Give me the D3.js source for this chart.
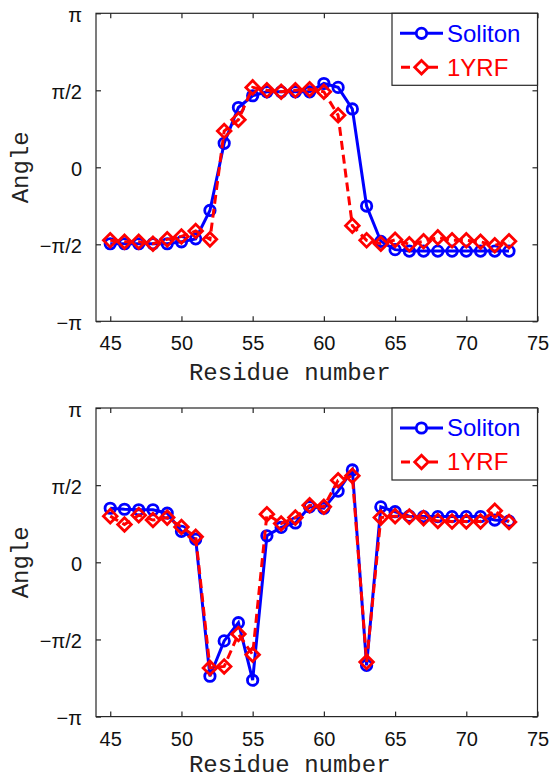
<!DOCTYPE html>
<html><head><meta charset="utf-8">
<script src="https://cdn.jsdelivr.net/npm/d3@7"></script>
<style>
html,body{margin:0;padding:0;background:#fff;}
svg{display:block;}
</style>
</head><body>
<svg id="chart" width="553" height="779"></svg>
<script>
const residues = [45,46,47,48,49,50,51,52,53,54,55,56,57,58,59,60,61,62,63,64,65,66,67,68,69,70,71,72,73];
// angles in radians
const topSoliton = [-1.56,-1.56,-1.56,-1.56,-1.56,-1.52,-1.46,-0.88,0.49,1.22,1.46,1.54,1.54,1.54,1.54,1.71,1.63,1.19,-0.79,-1.51,-1.68,-1.71,-1.71,-1.71,-1.71,-1.71,-1.71,-1.71,-1.71];
const top1YRF = [-1.49,-1.52,-1.52,-1.56,-1.47,-1.41,-1.30,-1.47,0.74,0.97,1.63,1.57,1.54,1.57,1.59,1.54,1.06,-1.19,-1.49,-1.56,-1.48,-1.57,-1.51,-1.43,-1.49,-1.49,-1.52,-1.59,-1.51];
const bottomSoliton = [1.10,1.08,1.07,1.07,1.00,0.63,0.47,-2.32,-1.60,-1.23,-2.40,0.54,0.71,0.80,1.13,1.10,1.45,1.88,-2.10,1.13,1.03,0.94,0.93,0.93,0.93,0.93,0.93,0.86,0.84];
const bottom1YRF = [0.94,0.77,0.96,0.86,0.91,0.72,0.52,-2.15,-2.12,-1.46,-1.88,0.98,0.79,0.91,1.16,1.13,1.67,1.76,-2.03,0.91,0.94,0.93,0.90,0.84,0.83,0.83,0.83,1.05,0.82];
const xTicks = [45,50,55,60,65,70,75];
const yTickValues = [-Math.PI,-Math.PI/2,0,Math.PI/2,Math.PI];
const yTickLabels = ["\u2212\u03c0","\u2212\u03c0/2","0","\u03c0/2","\u03c0"];
const seriesNames = ["Soliton","1YRF"];
const xLabel = "Residue number";
const yLabel = "Angle";

const svg = d3.select("#chart");
const left = 96, right = 537.5;
const x = d3.scaleLinear().domain([44,75]).range([left,right]);
const cr = 5.2, dm = 6.8, mw = 2.8;

function panel(top, bottom, sol, yrf, xLabelY) {
  const y = d3.scaleLinear().domain([-Math.PI, Math.PI]).range([bottom, top]);
  const g = svg.append("g");
  const axisColor = "#262626";
  g.append("rect").attr("x",left).attr("y",top).attr("width",right-left).attr("height",bottom-top)
    .attr("fill","none").attr("stroke",axisColor).attr("stroke-width",1.2);
  const fmtY = d => yTickLabels[yTickValues.indexOf(d)];
  const xb = g.append("g").attr("transform",`translate(0,${bottom})`)
    .call(d3.axisBottom(x).tickValues(xTicks).tickSizeInner(-5).tickSizeOuter(0).tickPadding(15));
  const xt = g.append("g").attr("transform",`translate(0,${top})`)
    .call(d3.axisTop(x).tickValues(xTicks).tickSizeInner(-5).tickSizeOuter(0).tickFormat(""));
  const yl = g.append("g").attr("transform",`translate(${left},0)`)
    .call(d3.axisLeft(y).tickValues(yTickValues).tickFormat(fmtY).tickSizeInner(-5).tickSizeOuter(0).tickPadding(14));
  const yr = g.append("g").attr("transform",`translate(${right},0)`)
    .call(d3.axisRight(y).tickValues(yTickValues).tickFormat("").tickSizeInner(-5).tickSizeOuter(0));
  [xb,xt,yl,yr].forEach(a => {
    a.select(".domain").remove();
    a.selectAll("line").attr("stroke",axisColor).attr("stroke-width",1.2);
    a.selectAll("text").attr("font-family","'Liberation Sans', Arial, sans-serif").attr("font-size",20).attr("fill","#111");
  });
  yl.selectAll("text").attr("dy","0.4em");

  g.append("text").attr("x",(left+right)/2 - 27).attr("y",xLabelY)
    .attr("text-anchor","middle").attr("dominant-baseline","middle")
    .attr("font-family","'Liberation Mono', 'Courier New', monospace").attr("font-size",24).attr("fill","#222")
    .text(xLabel);
  g.append("text").attr("transform",`translate(22,${(top+bottom)/2}) rotate(-90)`)
    .attr("text-anchor","middle").attr("dominant-baseline","middle")
    .attr("font-family","'Liberation Mono', 'Courier New', monospace").attr("font-size",24).attr("fill","#222")
    .text(yLabel);

  const line = d3.line().x((d,i)=>x(residues[i])).y(d=>y(d));
  g.append("path").datum(sol).attr("d",line).attr("fill","none").attr("stroke","#0000ff").attr("stroke-width",3);
  g.selectAll(".circ").data(sol).enter().append("circle")
    .attr("cx",(d,i)=>x(residues[i])).attr("cy",d=>y(d)).attr("r",cr)
    .attr("fill","none").attr("stroke","#0000ff").attr("stroke-width",mw);
  g.append("path").datum(yrf).attr("d",line).attr("fill","none").attr("stroke","#ff0000").attr("stroke-width",3)
    .attr("stroke-dasharray","9,5");
  g.selectAll(".dia").data(yrf).enter().append("path")
    .attr("d",(d,i)=>{const cx=x(residues[i]), cy=y(d); return `M${cx},${cy-dm}L${cx+dm},${cy}L${cx},${cy+dm}L${cx-dm},${cy}Z`;})
    .attr("fill","none").attr("stroke","#ff0000").attr("stroke-width",mw);

  const lx0 = 392, ly0 = top, lw = right-lx0, lh = 72;
  const lg = g.append("g");
  lg.append("rect").attr("x",lx0).attr("y",ly0).attr("width",lw).attr("height",lh)
    .attr("fill","#fff").attr("stroke",axisColor).attr("stroke-width",1.2);
  const rows = [ly0+20, ly0+54];
  lg.append("line").attr("x1",400).attr("x2",443).attr("y1",rows[0]).attr("y2",rows[0]).attr("stroke","#0000ff").attr("stroke-width",3);
  lg.append("circle").attr("cx",421.5).attr("cy",rows[0]).attr("r",cr).attr("fill","#fff").attr("stroke","#0000ff").attr("stroke-width",mw);
  lg.append("text").attr("x",447).attr("y",rows[0]).attr("dy","0.35em")
    .attr("font-family","'Liberation Sans', Arial, sans-serif").attr("font-size",24).attr("fill","#0000ff").text(seriesNames[0]);
  lg.append("line").attr("x1",400).attr("x2",443).attr("y1",rows[1]).attr("y2",rows[1]).attr("stroke","#ff0000").attr("stroke-width",3)
    .attr("stroke-dasharray","9,5").attr("stroke-dashoffset",-1);
  lg.append("path").attr("d",`M421.5,${rows[1]-dm}L${421.5+dm},${rows[1]}L421.5,${rows[1]+dm}L${421.5-dm},${rows[1]}Z`)
    .attr("fill","#fff").attr("stroke","#ff0000").attr("stroke-width",mw);
  lg.append("text").attr("x",447).attr("y",rows[1]).attr("dy","0.35em")
    .attr("font-family","'Liberation Sans', Arial, sans-serif").attr("font-size",24).attr("fill","#ff0000").text(seriesNames[1]);
}

panel(13.3, 321.3, topSoliton, top1YRF, 374);
panel(408, 716.6, bottomSoliton, bottom1YRF, 766);
</script>
</body></html>
